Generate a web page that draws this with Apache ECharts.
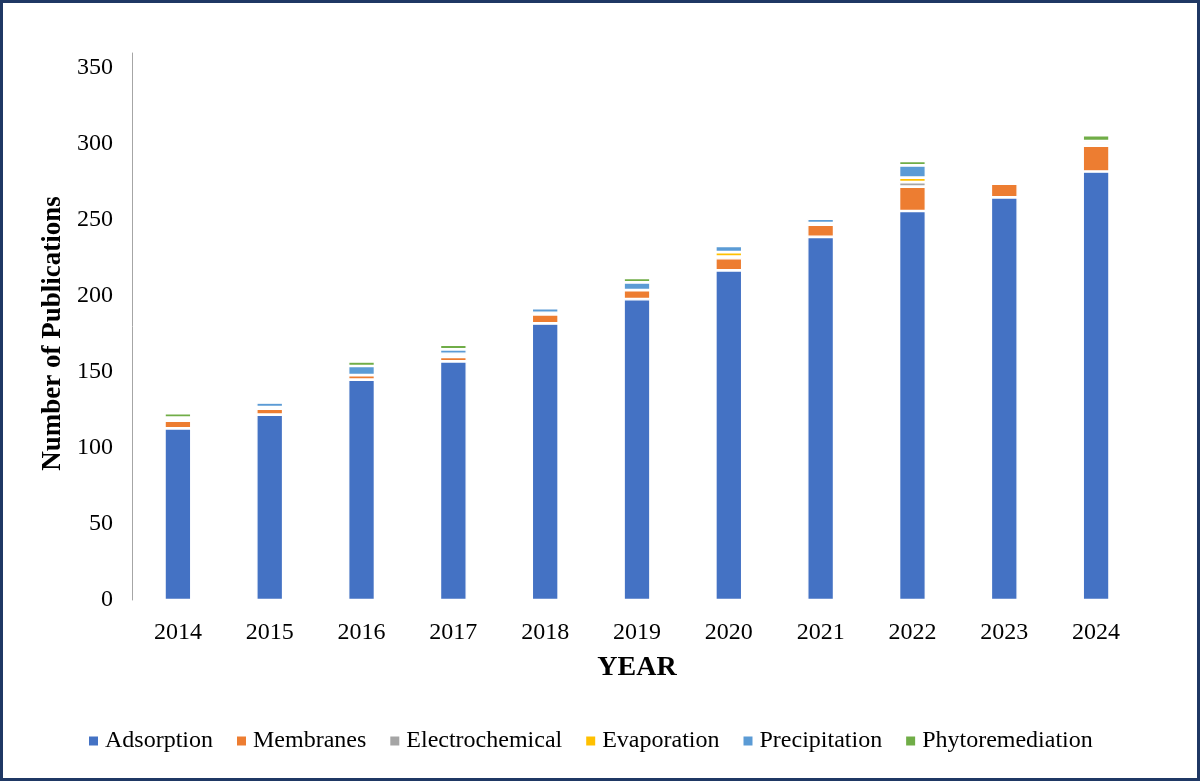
<!DOCTYPE html>
<html>
<head>
<meta charset="utf-8">
<script src="https://cdn.jsdelivr.net/npm/echarts@6/dist/echarts.min.js"></script>
<style>
html,body{margin:0;padding:0;background:#fff;}
#frame{position:absolute;left:0;top:0;width:1200px;height:781px;box-sizing:border-box;border:3px solid #1f3864;background:#fff;}
#chart{position:absolute;left:0;top:0;width:1200px;height:781px;}
</style>
</head>
<body>
<div id="frame"></div>
<div id="chart"></div>
<script>
const years = ['2014','2015','2016','2017','2018','2019','2020','2021','2022','2023','2024'];
const adsorption      = [113,122,145,157,182,198,217,239,256,265,282];
const membranes       = [5,4,3,3,6,6,8,8,16,9,17];
const electrochemical = [1,0,0,1,0,0,1,0,3,0,1];
const evaporation     = [1,1,0,1,1,0,3,1,3,0,1];
const precipitation   = [0,3,6,3,3,5,4,3,8,0,1];
const phytoremediation= [3,0,3,3,0,3,0,0,3,0,4];
const yTicks = [0,50,100,150,200,250,300,350];

const seriesDefs = [
  ['Adsorption', adsorption, '#4472C4'],
  ['Membranes', membranes, '#ED7D31'],
  ['Electrochemical', electrochemical, '#A5A5A5'],
  ['Evaporation', evaporation, '#FFC000'],
  ['Precipitation', precipitation, '#5B9BD5'],
  ['Phytoremediation', phytoremediation, '#70AD47']
];

const chart = echarts.init(document.getElementById('chart'), null, {renderer:'canvas'});
chart.setOption({
  animation: false,
  backgroundColor: 'transparent',
  grid: {left: 132, right: 58, top: 53, bottom: 181, containLabel: false},
  legend: {
    top: 724,
    left: 84,
    icon: 'rect',
    itemWidth: 9,
    itemHeight: 9,
    itemGap: 24,
    itemStyle: {borderWidth: 0},
    textStyle: {fontFamily: 'Liberation Serif', fontSize: 24, color: '#000', padding: [0,0,0,2]},
    data: seriesDefs.map(s => s[0])
  },
  xAxis: {
    type: 'category',
    data: years,
    axisLine: {show: false},
    axisTick: {show: false},
    axisLabel: {fontFamily: 'Liberation Serif', fontSize: 24, color: '#000', margin: 21},
    name: 'YEAR',
    nameLocation: 'middle',
    nameGap: 54,
    nameTextStyle: {fontFamily: 'Liberation Serif', fontSize: 28, fontWeight: 'bold', color: '#000'}
  },
  yAxis: {
    type: 'value',
    min: 0,
    max: 360,
    interval: 50,
    splitLine: {show: false},
    axisTick: {show: false},
    axisLine: {show: true, lineStyle: {color: '#a6a6a6', width: 1}},
    axisLabel: {
      fontFamily: 'Liberation Serif', fontSize: 24, color: '#000', margin: 19,
      formatter: v => yTicks.indexOf(v) >= 0 ? String(v) : ''
    },
    name: 'Number of Publications',
    nameLocation: 'middle',
    nameRotate: 90,
    nameGap: 59,
    nameTextStyle: {fontFamily: 'Liberation Serif', fontSize: 27, fontWeight: 'bold', color: '#000', padding: [0,14,0,0]}
  },
  series: seriesDefs.map(s => ({
    name: s[0],
    type: 'bar',
    stack: 'total',
    barWidth: 27,
    data: s[1],
    itemStyle: {color: s[2], borderColor: '#ffffff', borderWidth: 1.35},
    emphasis: {disabled: true}
  }))
});
</script>
</body>
</html>
